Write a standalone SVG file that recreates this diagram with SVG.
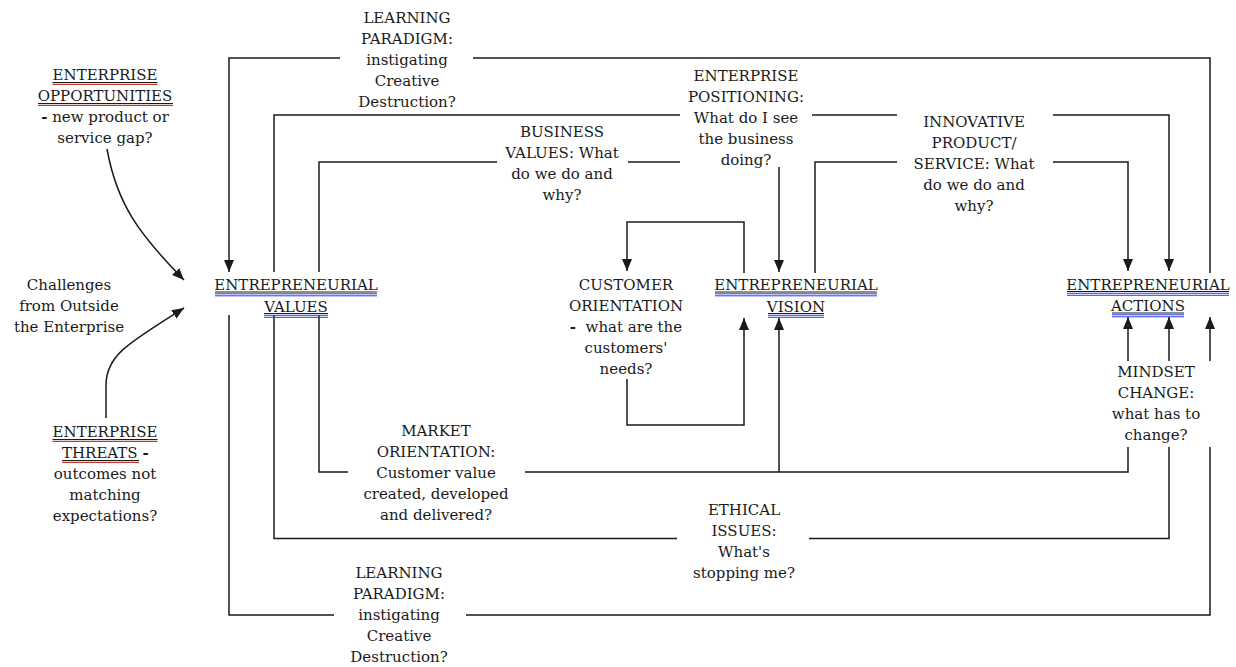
<svg xmlns="http://www.w3.org/2000/svg" width="1236" height="667" viewBox="0 0 1236 667">
<style>
.t{font-family:"DejaVu Serif","Liberation Serif",serif;font-size:15px;fill:#1a1a1a;text-anchor:middle}
.s{text-anchor:start}
.c{fill:none;stroke:#1a1a1a;stroke-width:1.5}
.a{marker-end:url(#arr)}
.ub{stroke:#1a1a1a;stroke-width:1}
.ur{stroke:#c0392b;stroke-width:1.2}
.uu{stroke:#2b3cf0;stroke-width:1}
.b{font-weight:bold}
</style>
<defs>
<marker id="arr" viewBox="0 0 12 10" refX="12" refY="5" markerWidth="12" markerHeight="10" markerUnits="userSpaceOnUse" orient="auto">
<path d="M0,0 L12,5 L0,10 z" fill="#1a1a1a"/>
</marker>
</defs>
<rect width="1236" height="667" fill="#fff"/>
<g id="connectors">
<path class="c" d="M1210,273 V58 H473"/>
<path class="c a" d="M340,58 H229 V272"/>
<path class="c" d="M274,272 V115 H680"/>
<path class="c" d="M812,115 H897"/>
<path class="c a" d="M1053,115 H1169 V271"/>
<path class="c" d="M319,272 V162 H497"/>
<path class="c" d="M628,162 H680"/>
<path class="c" d="M815,273 V162 H897"/>
<path class="c a" d="M1053,162 H1128 V271"/>
<path class="c a" d="M779,167 V272"/>
<path class="c a" d="M744,273 V222 H627 V271"/>
<path class="c a" d="M627,379 V425 H744 V318"/>
<path class="c" d="M319,315 V472 H348"/>
<path class="c" d="M525,472 H1128 V447"/>
<path class="c a" d="M779,472 V318"/>
<path class="c" d="M274,315 V538.5 H677"/>
<path class="c" d="M809,538.5 H1169 V447"/>
<path class="c" d="M229,315 V615 H334"/>
<path class="c" d="M466,615 H1210 V447"/>
<path class="c a" d="M1128,361 V317"/>
<path class="c a" d="M1169,361 V317"/>
<path class="c a" d="M1210,361 V317"/>
<path class="c a" d="M107,149 C117,205 140,235 184,280"/>
<path class="c a" d="M106,418 V385 C106,355 130,342 184,308"/>
</g>
<g id="opportunities">
<text class="t" x="105" y="80">ENTERPRISE<tspan x="105" dy="21">OPPORTUNITIES</tspan><tspan x="105" dy="21"><tspan class="b">-</tspan> new product or</tspan><tspan x="105" dy="21">service gap?</tspan></text>
<line class="ub" x1="52.5" y1="82.5" x2="157.5" y2="82.5"/>
<line class="ur" x1="52.5" y1="84.3" x2="157.5" y2="84.3"/>
<line class="ub" x1="38" y1="103.5" x2="173" y2="103.5"/>
<line class="ur" x1="38" y1="105.3" x2="173" y2="105.3"/>
</g>
<g id="challenges">
<text class="t" x="69" y="290">Challenges<tspan x="69" dy="21">from Outside</tspan><tspan x="69" dy="21">the Enterprise</tspan></text>
</g>
<g id="threats">
<text class="t" x="105" y="437">ENTERPRISE</text>
<text class="t s" x="62" y="458">THREATS <tspan class="b">-</tspan></text>
<text class="t" x="105" y="479">outcomes not<tspan x="105" dy="21">matching</tspan><tspan x="105" dy="21">expectations?</tspan></text>
<line class="ub" x1="52.5" y1="439.5" x2="157.5" y2="439.5"/>
<line class="ur" x1="52.5" y1="441.3" x2="157.5" y2="441.3"/>
<line class="ub" x1="62" y1="460.5" x2="139" y2="460.5"/>
<line class="ur" x1="62" y1="462.3" x2="139" y2="462.3"/>
</g>
<g id="learning-top">
<text class="t" x="407" y="23">LEARNING<tspan x="407" dy="21">PARADIGM:</tspan><tspan x="407" dy="21">instigating</tspan><tspan x="407" dy="21">Creative</tspan><tspan x="407" dy="21">Destruction?</tspan></text>
</g>
<g id="positioning">
<text class="t" x="746" y="80.5">ENTERPRISE<tspan x="746" dy="21">POSITIONING:</tspan><tspan x="746" dy="21">What do I see</tspan><tspan x="746" dy="21">the business</tspan><tspan x="746" dy="21">doing?</tspan></text>
</g>
<g id="business-values">
<text class="t" x="562" y="137">BUSINESS<tspan x="562" dy="21">VALUES: What</tspan><tspan x="562" dy="21">do we do and</tspan><tspan x="562" dy="21">why?</tspan></text>
</g>
<g id="innovative">
<text class="t" x="974" y="127">INNOVATIVE<tspan x="974" dy="21">PRODUCT/</tspan><tspan x="974" dy="21">SERVICE: What</tspan><tspan x="974" dy="21">do we do and</tspan><tspan x="974" dy="21">why?</tspan></text>
</g>
<g id="values">
<text class="t" x="296" y="290">ENTREPRENEURIAL<tspan x="296" dy="21.5">VALUES</tspan></text>
<line class="ub" x1="215" y1="292" x2="377" y2="292"/>
<line class="uu" x1="215" y1="293.8" x2="377" y2="293.8"/>
<line class="uu" x1="215" y1="295.8" x2="377" y2="295.8"/>
<line class="ub" x1="264" y1="313.5" x2="328" y2="313.5"/>
<line class="uu" x1="264" y1="315.3" x2="328" y2="315.3"/>
<line class="uu" x1="264" y1="317.3" x2="328" y2="317.3"/>
</g>
<g id="customer">
<text class="t" x="626" y="290">CUSTOMER<tspan x="626" dy="21">ORIENTATION</tspan><tspan x="626" dy="21" xml:space="preserve"><tspan class="b">-</tspan>  what are the</tspan><tspan x="626" dy="21">customers'</tspan><tspan x="626" dy="21">needs?</tspan></text>
</g>
<g id="vision">
<text class="t" x="796" y="290">ENTREPRENEURIAL<tspan x="796" dy="21.5">VISION</tspan></text>
<line class="ub" x1="715" y1="292" x2="877" y2="292"/>
<line class="uu" x1="715" y1="293.8" x2="877" y2="293.8"/>
<line class="uu" x1="715" y1="295.8" x2="877" y2="295.8"/>
<line class="ub" x1="768" y1="313.5" x2="824" y2="313.5"/>
<line class="uu" x1="768" y1="315.3" x2="824" y2="315.3"/>
<line class="uu" x1="768" y1="317.3" x2="824" y2="317.3"/>
</g>
<g id="actions">
<text class="t" x="1148" y="289.5">ENTREPRENEURIAL<tspan x="1148" dy="21.5">ACTIONS</tspan></text>
<line class="ub" x1="1067" y1="291.5" x2="1229" y2="291.5"/>
<line class="uu" x1="1067" y1="293.3" x2="1229" y2="293.3"/>
<line class="uu" x1="1067" y1="295.3" x2="1229" y2="295.3"/>
<line class="ub" x1="1112" y1="313" x2="1184" y2="313"/>
<line class="uu" x1="1112" y1="314.8" x2="1184" y2="314.8"/>
<line class="uu" x1="1112" y1="316.8" x2="1184" y2="316.8"/>
</g>
<g id="mindset">
<text class="t" x="1156" y="377">MINDSET<tspan x="1156" dy="21">CHANGE:</tspan><tspan x="1156" dy="21">what has to</tspan><tspan x="1156" dy="21">change?</tspan></text>
</g>
<g id="market">
<text class="t" x="436" y="436">MARKET<tspan x="436" dy="21">ORIENTATION:</tspan><tspan x="436" dy="21">Customer value</tspan><tspan x="436" dy="21">created, developed</tspan><tspan x="436" dy="21">and delivered?</tspan></text>
</g>
<g id="ethical">
<text class="t" x="744" y="515">ETHICAL<tspan x="744" dy="21">ISSUES:</tspan><tspan x="744" dy="21">What's</tspan><tspan x="744" dy="21">stopping me?</tspan></text>
</g>
<g id="learning-bottom">
<text class="t" x="399" y="578">LEARNING<tspan x="399" dy="21">PARADIGM:</tspan><tspan x="399" dy="21">instigating</tspan><tspan x="399" dy="21">Creative</tspan><tspan x="399" dy="21">Destruction?</tspan></text>
</g>
</svg>
